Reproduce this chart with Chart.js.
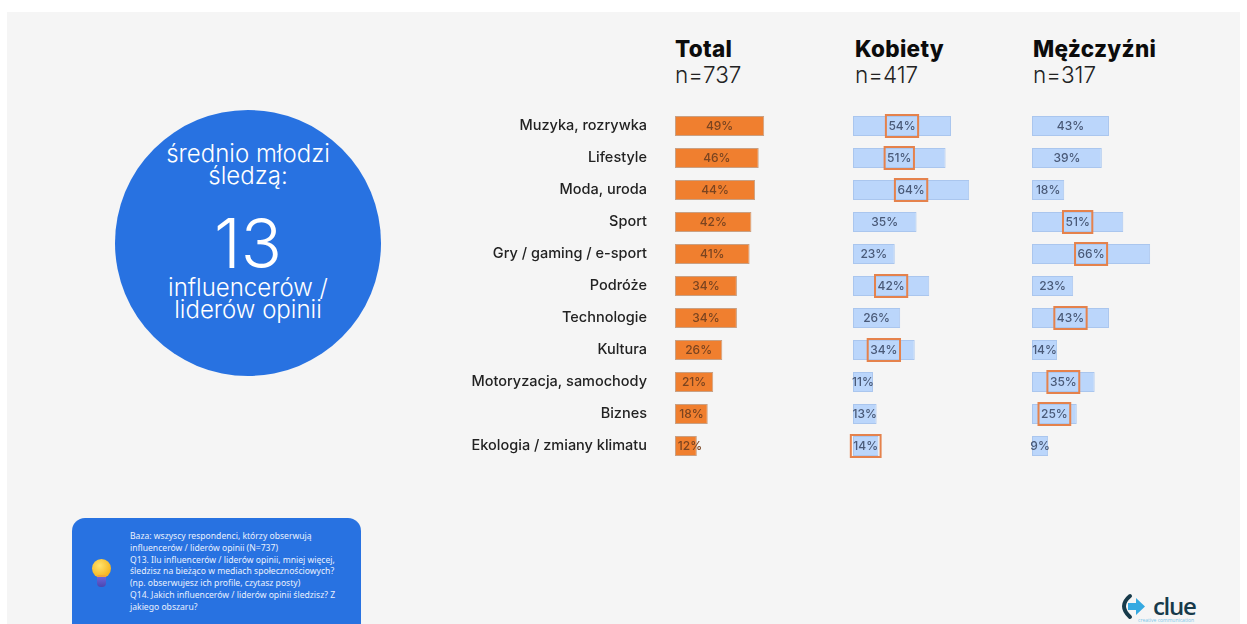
<!DOCTYPE html>
<html lang="pl"><head><meta charset="utf-8">
<script src="https://cdn.jsdelivr.net/npm/chart.js@4"></script>
<style>
html,body{margin:0;padding:0;background:#fff;overflow:hidden}
#stage{position:relative;width:1247px;height:624px;overflow:hidden;font-family:Inter,"Open Sans",sans-serif}
#panel{position:absolute;left:7px;top:12px;width:1233px;height:612px;background:#f5f5f5}
.chartbox{position:absolute;top:110px;height:352px}
.head{position:absolute;top:36px;color:#0c0c0c;line-height:26px;font-size:22.5px;white-space:nowrap}
.head b{font-weight:800;display:block;letter-spacing:.3px}
.head span{font-weight:300;color:#222;display:block}
#circle{position:absolute;left:115px;top:110px;width:266px;height:266px;border-radius:50%;background:#2872e1;color:#fff;text-align:center;font-weight:300}
#circle div{position:absolute;left:0;width:100%}
#note{position:absolute;left:72px;top:518px;width:289px;height:120px;border-radius:13px;background:#2872e1;color:#e8f0fd;font:8.6px/11.75px "Noto Sans",Lato,sans-serif}
#note p{position:absolute;left:58px;top:13px;margin:0;white-space:nowrap}
#bulb{position:absolute;left:20px;top:41px;width:19px;height:19px;border-radius:50%;background:radial-gradient(circle at 40% 35%,#ffe36e,#f6b620 70%)}
#base{position:absolute;left:25px;top:57px;width:9px;height:12px;border-radius:1px 1px 4px 4px;background:linear-gradient(#f0a53a 0 20%,#6a63d8 20%,#4a46b0)}
#logo{position:absolute;left:1119px;top:592px;width:90px;height:32px}
#logo .t{position:absolute;left:34px;top:2px;font:600 24px/24px "Open Sans",sans-serif;letter-spacing:-1.3px;color:#173a4a}
#logo .s{position:absolute;left:19px;top:25px;font:5px/6px "Open Sans",sans-serif;color:#7cc6ea;white-space:nowrap}
</style></head><body>
<div id="stage">
<div id="panel"></div>
<div id="circle">
<div style="top:33px;font-size:24px;line-height:22px">średnio młodzi<br>śledzą:</div>
<div style="top:97px;font-size:68px;line-height:72px;font-weight:300">13</div>
<div style="top:167px;font-size:24px;line-height:22px">influencerów /<br>liderów opinii</div>
</div>
<div class="head" style="left:675px"><b>Total</b><span>n=737</span></div>
<div class="head" style="left:855px"><b>Kobiety</b><span>n=417</span></div>
<div class="head" style="left:1033px"><b>Mężczyźni</b><span>n=317</span></div>
<div class="chartbox" style="left:400px;width:425px"><canvas id="cTotal"></canvas></div>
<div class="chartbox" style="left:833px;width:190px"><canvas id="cWomen"></canvas></div>
<div class="chartbox" style="left:1012px;width:190px"><canvas id="cMen"></canvas></div>
<div id="note"><div id="bulb"></div><div id="base"></div>
<p>Baza: wszyscy respondenci, którzy obserwują<br>influencerów / liderów opinii (N=737)<br>Q13. Ilu influencerów / liderów opinii, mniej więcej,<br>śledzisz na bieżąco w mediach społecznościowych?<br>(np. obserwujesz ich profile, czytasz posty)<br>Q14. Jakich influencerów / liderów opinii śledzisz? Z<br>jakiego obszaru?</p></div>
<div id="logo">
<svg width="32" height="28" viewBox="0 0 32 28" style="position:absolute;left:0;top:1px"><path d="M11 3 Q-1 13 11 24" fill="none" stroke="#173a4a" stroke-width="4" stroke-linecap="round"/><path d="M9 10h8V5l9 8.500-9 8.500v-5H9z" fill="#35a9e1"/></svg>
<div class="t">clue</div><div class="s">creative communication</div></div>
</div>
<script>
const categories = ["Muzyka, rozrywka","Lifestyle","Moda, uroda","Sport","Gry / gaming / e-sport","Podróże","Technologie","Kultura","Motoryzacja, samochody","Biznes","Ekologia / zmiany klimatu"];
const totalValues = [49,46,44,42,41,34,34,26,21,18,12];
const womenValues = [54,51,64,35,23,42,26,34,11,13,14];
const menValues   = [43,39,18,51,66,23,43,14,35,25,9];
const womenHighlighted = ["Muzyka, rozrywka","Lifestyle","Moda, uroda","Podróże","Kultura","Ekologia / zmiany klimatu"];
const menHighlighted   = ["Sport","Gry / gaming / e-sport","Technologie","Motoryzacja, samochody","Biznes"];

const valueLabels = {
  id:'valueLabels',
  afterDatasetsDraw(chart, args, o){
    const {ctx} = chart, meta = chart.getDatasetMeta(0);
    ctx.save();
    ctx.font = '500 12px Inter, "Open Sans", sans-serif';
    ctx.textAlign='center'; ctx.textBaseline='middle';
    meta.data.forEach((bar,i)=>{
      const txt = chart.data.datasets[0].data[i]+'%';
      const x0 = chart.scales.x.getPixelForValue(0);
      const cx = (x0+bar.x)/2 + (o.nudge && o.nudge[i] || 0);
      ctx.fillStyle = o.color;
      ctx.fillText(txt,cx,bar.y);
      if(o.highlight && o.highlight.includes(categories[i])){
        const w = ctx.measureText(txt).width+5;
        ctx.strokeStyle='#e5824c'; ctx.lineWidth=2;
        ctx.strokeRect(cx-w/2,bar.y-11,w,22);
      }
    });
    ctx.restore();
  }
};

function makeChart(id, values, fill, edge, scaleMax, opts){
  const showLabels = !!opts.yWidth;
  return new Chart(document.getElementById(id),{
    type:'bar',
    data:{labels:categories,datasets:[{data:values,backgroundColor:fill,borderColor:edge,borderWidth:1,borderSkipped:false,categoryPercentage:1,barPercentage:0.625}]},
    plugins:[valueLabels],
    options:{
      indexAxis:'y',responsive:true,maintainAspectRatio:false,animation:false,
      layout:{padding:{left:opts.padLeft||0}},
      plugins:{legend:{display:false},tooltip:{enabled:false},
        valueLabels:{color:opts.labelColor,highlight:opts.highlight,nudge:opts.nudge}},
      scales:{
        x:{display:false,min:0,max:scaleMax},
        y:{display:showLabels,grid:{display:false,drawTicks:false},border:{display:false},
           afterFit(s){ if(showLabels){ s.width=opts.yWidth; s.paddingTop=0; s.paddingBottom=0; } },
           ticks:{padding:28,color:'#222',autoSkip:false,font:{family:'Inter, "Open Sans", sans-serif',size:14.5,weight:'500'}}}
      }
    }
  });
}
makeChart('cTotal',totalValues,'#f07f2f','#c9a083',150/1.82,{yWidth:275,labelColor:'#7a4420',nudge:{10:4}});
makeChart('cWomen',womenValues,'#bbd6fb','#aac6ee',170/1.815,{padLeft:20,labelColor:'#4a5a78',highlight:womenHighlighted});
makeChart('cMen',menValues,'#bbd6fb','#aac6ee',170/1.79,{padLeft:20,labelColor:'#4a5a78',highlight:menHighlighted});
</script>
</body></html>
